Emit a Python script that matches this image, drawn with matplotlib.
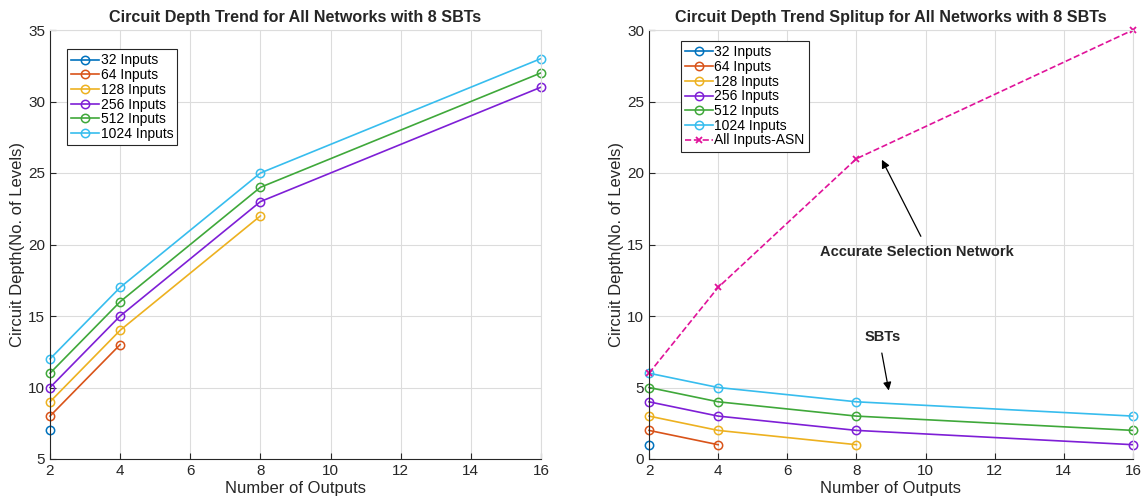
import matplotlib
matplotlib.use("Agg")
import matplotlib.pyplot as plt

plt.rcParams['font.family'] = ['Liberation Sans', 'DejaVu Sans']

outputs = [2, 4, 8, 16]
labels = ["32 Inputs", "64 Inputs", "128 Inputs", "256 Inputs", "512 Inputs", "1024 Inputs"]
colors = ["#0072BD", "#D95319", "#EDB120", "#7E1FD6", "#3FA83A", "#37BDEE"]

# Left chart: total circuit depth
total_depth = [
    [7],
    [8, 13],
    [9, 14, 22],
    [10, 15, 23, 31],
    [11, 16, 24, 32],
    [12, 17, 25, 33],
]

# Right chart: SBT depth split
sbt_depth = [
    [1],
    [2, 1],
    [3, 2, 1],
    [4, 3, 2, 1],
    [5, 4, 3, 2],
    [6, 5, 4, 3],
]
asn_label = "All Inputs-ASN"
asn_depth = [6, 12, 21, 30]
asn_color = "#E0139A"

fig = plt.figure(figsize=(11.46, 5.04), dpi=100)
ax1 = fig.add_axes([50/1146, 1-459/504, 491/1146, 429/504])
ax2 = fig.add_axes([649/1146, 1-459/504, 484/1146, 429/504])

def style(ax):
    ax.grid(True, color="#DCDCDC", linewidth=0.8)
    ax.set_axisbelow(True)
    for s in ["top", "right"]:
        ax.spines[s].set_color("#DCDCDC")
    for s in ["left", "bottom"]:
        ax.spines[s].set_color("#262626")
    ax.tick_params(direction="in", labelsize=11, colors="#262626", length=4)
    ax.set_xticks([2, 4, 6, 8, 10, 12, 14, 16])
    ax.set_xlim(2, 16)

for vals, lab, c in zip(total_depth, labels, colors):
    ax1.plot(outputs[:len(vals)], vals, marker="o", mfc="none", color=c, lw=1.2, ms=6, mew=1.1, label=lab, clip_on=False)
style(ax1)
ax1.set_ylim(5, 35)
ax1.set_yticks([5, 10, 15, 20, 25, 30, 35])
ax1.set_title("Circuit Depth Trend for All Networks with 8 SBTs", fontsize=11.6, fontweight="bold", color="#262626", pad=6)
ax1.set_xlabel("Number of Outputs", fontsize=12, color="#262626", labelpad=2)
ax1.set_ylabel("Circuit Depth(No. of Levels)", fontsize=12, color="#262626", labelpad=2)
leg1 = ax1.legend(loc="upper left", bbox_to_anchor=(0.035, 0.955), fontsize=10, fancybox=False, framealpha=1,
                  edgecolor="#262626", handlelength=2.0, handletextpad=0.1, borderpad=0.3, labelspacing=0.05, borderaxespad=0)
leg1.get_frame().set_linewidth(0.8)

for vals, lab, c in zip(sbt_depth, labels, colors):
    ax2.plot(outputs[:len(vals)], vals, marker="o", mfc="none", color=c, lw=1.2, ms=6, mew=1.1, label=lab, clip_on=False)
ax2.plot(outputs, asn_depth, marker="x", ls="--", color=asn_color, lw=1.2, ms=4, mew=1.3, label=asn_label, clip_on=False)
style(ax2)
ax2.set_ylim(0, 30)
ax2.set_yticks([0, 5, 10, 15, 20, 25, 30])
ax2.set_title("Circuit Depth Trend Splitup for All Networks with 8 SBTs", fontsize=11.6, fontweight="bold", color="#262626", pad=6)
ax2.set_xlabel("Number of Outputs", fontsize=12, color="#262626", labelpad=2)
ax2.set_ylabel("Circuit Depth(No. of Levels)", fontsize=12, color="#262626", labelpad=2)
leg2 = ax2.legend(loc="upper left", bbox_to_anchor=(0.066, 0.974), fontsize=10, fancybox=False, framealpha=1,
                  edgecolor="#262626", handlelength=2.0, handletextpad=0.1, borderpad=0.3, labelspacing=0.05, borderaxespad=0)
leg2.get_frame().set_linewidth(0.8)

ax2.annotate("", xy=(8.7, 21.1), xytext=(9.9, 15.4),
             arrowprops=dict(arrowstyle="-|>", color="black", lw=0.9, mutation_scale=12))
ax2.text(9.75, 14.5, "Accurate Selection Network", fontsize=10.5, fontweight="bold", ha="center", va="center", color="#262626")
ax2.annotate("", xy=(8.95, 4.6), xytext=(8.72, 7.6),
             arrowprops=dict(arrowstyle="-|>", color="black", lw=0.9, mutation_scale=12))
ax2.text(8.75, 8.5, "SBTs", fontsize=10.5, fontweight="bold", ha="center", va="center", color="#262626")

fig.savefig("out.png", dpi=100)
